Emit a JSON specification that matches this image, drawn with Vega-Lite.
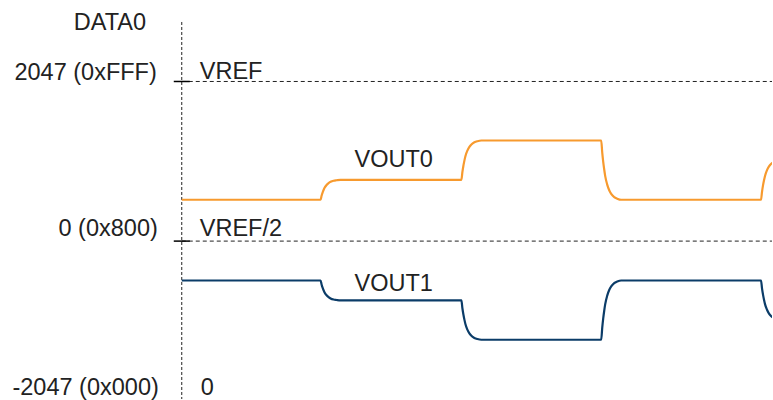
{
  "$schema": "https://vega.github.io/schema/vega-lite/v6.json",
  "width": 773,
  "height": 400,
  "padding": 0,
  "autosize": {"type": "fit", "contains": "padding"},
  "config": {"view": {"stroke": null}},
  "datasets": {
    "waves": [
      {"series": "VOUT0", "t": 0, "v": 530},
      {"series": "VOUT0", "t": 139, "v": 530},
      {"series": "VOUT0", "t": 140, "v": 581},
      {"series": "VOUT0", "t": 141, "v": 622},
      {"series": "VOUT0", "t": 142, "v": 655},
      {"series": "VOUT0", "t": 143, "v": 683},
      {"series": "VOUT0", "t": 145, "v": 720},
      {"series": "VOUT0", "t": 147, "v": 744},
      {"series": "VOUT0", "t": 149, "v": 760},
      {"series": "VOUT0", "t": 152, "v": 774},
      {"series": "VOUT0", "t": 155, "v": 780},
      {"series": "VOUT0", "t": 159, "v": 785},
      {"series": "VOUT0", "t": 280, "v": 785},
      {"series": "VOUT0", "t": 281, "v": 886},
      {"series": "VOUT0", "t": 282, "v": 967},
      {"series": "VOUT0", "t": 283, "v": 1032},
      {"series": "VOUT0", "t": 284, "v": 1088},
      {"series": "VOUT0", "t": 286, "v": 1161},
      {"series": "VOUT0", "t": 288, "v": 1209},
      {"series": "VOUT0", "t": 290, "v": 1240},
      {"series": "VOUT0", "t": 293, "v": 1267},
      {"series": "VOUT0", "t": 296, "v": 1281},
      {"series": "VOUT0", "t": 300, "v": 1290},
      {"series": "VOUT0", "t": 420, "v": 1290},
      {"series": "VOUT0", "t": 421, "v": 1138},
      {"series": "VOUT0", "t": 422, "v": 1016},
      {"series": "VOUT0", "t": 423, "v": 918},
      {"series": "VOUT0", "t": 424, "v": 834},
      {"series": "VOUT0", "t": 426, "v": 724},
      {"series": "VOUT0", "t": 428, "v": 652},
      {"series": "VOUT0", "t": 430, "v": 606},
      {"series": "VOUT0", "t": 433, "v": 564},
      {"series": "VOUT0", "t": 436, "v": 544},
      {"series": "VOUT0", "t": 440, "v": 530},
      {"series": "VOUT0", "t": 580, "v": 530},
      {"series": "VOUT0", "t": 581, "v": 632},
      {"series": "VOUT0", "t": 582, "v": 714},
      {"series": "VOUT0", "t": 583, "v": 780},
      {"series": "VOUT0", "t": 584, "v": 836},
      {"series": "VOUT0", "t": 586, "v": 910},
      {"series": "VOUT0", "t": 588, "v": 958},
      {"series": "VOUT0", "t": 590, "v": 989},
      {"series": "VOUT0", "t": 593, "v": 1017},
      {"series": "VOUT0", "t": 596, "v": 1031},
      {"series": "VOUT0", "t": 600, "v": 1040},
      {"series": "VOUT1", "t": 0, "v": -505},
      {"series": "VOUT1", "t": 139, "v": -505},
      {"series": "VOUT1", "t": 140, "v": -556},
      {"series": "VOUT1", "t": 141, "v": -597},
      {"series": "VOUT1", "t": 142, "v": -630},
      {"series": "VOUT1", "t": 143, "v": -658},
      {"series": "VOUT1", "t": 145, "v": -695},
      {"series": "VOUT1", "t": 147, "v": -719},
      {"series": "VOUT1", "t": 149, "v": -735},
      {"series": "VOUT1", "t": 152, "v": -749},
      {"series": "VOUT1", "t": 155, "v": -755},
      {"series": "VOUT1", "t": 159, "v": -760},
      {"series": "VOUT1", "t": 280, "v": -760},
      {"series": "VOUT1", "t": 281, "v": -861},
      {"series": "VOUT1", "t": 282, "v": -942},
      {"series": "VOUT1", "t": 283, "v": -1007},
      {"series": "VOUT1", "t": 284, "v": -1063},
      {"series": "VOUT1", "t": 286, "v": -1136},
      {"series": "VOUT1", "t": 288, "v": -1184},
      {"series": "VOUT1", "t": 290, "v": -1215},
      {"series": "VOUT1", "t": 293, "v": -1242},
      {"series": "VOUT1", "t": 296, "v": -1256},
      {"series": "VOUT1", "t": 300, "v": -1265},
      {"series": "VOUT1", "t": 420, "v": -1265},
      {"series": "VOUT1", "t": 421, "v": -1113},
      {"series": "VOUT1", "t": 422, "v": -991},
      {"series": "VOUT1", "t": 423, "v": -893},
      {"series": "VOUT1", "t": 424, "v": -809},
      {"series": "VOUT1", "t": 426, "v": -699},
      {"series": "VOUT1", "t": 428, "v": -627},
      {"series": "VOUT1", "t": 430, "v": -581},
      {"series": "VOUT1", "t": 433, "v": -539},
      {"series": "VOUT1", "t": 436, "v": -519},
      {"series": "VOUT1", "t": 440, "v": -505},
      {"series": "VOUT1", "t": 580, "v": -505},
      {"series": "VOUT1", "t": 581, "v": -606},
      {"series": "VOUT1", "t": 582, "v": -687},
      {"series": "VOUT1", "t": 583, "v": -752},
      {"series": "VOUT1", "t": 584, "v": -808},
      {"series": "VOUT1", "t": 586, "v": -881},
      {"series": "VOUT1", "t": 588, "v": -929},
      {"series": "VOUT1", "t": 590, "v": -960},
      {"series": "VOUT1", "t": 593, "v": -987},
      {"series": "VOUT1", "t": 596, "v": -1001},
      {"series": "VOUT1", "t": 600, "v": -1010}
    ],
    "labels": [
      {"text": "DATA0", "t": -72, "v": 2705, "align": "center"},
      {"text": "2047 (0xFFF)", "t": -25, "v": 2070, "align": "right"},
      {"text": "0 (0x800)", "t": -24, "v": 60, "align": "right"},
      {"text": "-2047 (0x000)", "t": -23, "v": -1980, "align": "right"},
      {"text": "VREF", "t": 18, "v": 2080, "align": "left"},
      {"text": "VREF/2", "t": 18, "v": 63, "align": "left"},
      {"text": "0", "t": 19, "v": -1980, "align": "left"},
      {"text": "VOUT0", "t": 173, "v": 945, "align": "left"},
      {"text": "VOUT1", "t": 173, "v": -640, "align": "left"}
    ],
    "refs": [
      {"t1": 0, "t2": 591, "v": 2047},
      {"t1": 0, "t2": 591, "v": 0}
    ],
    "ticks": [
      {"t1": -8, "t2": 8, "v": 2047},
      {"t1": -8, "t2": 8, "v": 0}
    ],
    "axisline": [
      {"t": 0, "v1": 2810, "v2": -2025}
    ]
  },
  "layer": [
    {
      "data": {"name": "axisline"},
      "mark": {"type": "rule", "color": "#222222", "strokeWidth": 1, "strokeDash": [3, 2]},
      "encoding": {
        "x": {"field": "t", "type": "quantitative", "scale": {"domain": [-182, 591], "nice": false, "zero": false}, "axis": null},
        "y": {"field": "v1", "type": "quantitative", "scale": {"domain": [-2025, 3092], "nice": false, "zero": false}, "axis": null},
        "y2": {"field": "v2"}
      }
    },
    {
      "data": {"name": "refs"},
      "mark": {"type": "rule", "color": "#222222", "strokeWidth": 1, "strokeDash": [4, 3]},
      "encoding": {
        "x": {"field": "t1", "type": "quantitative"},
        "x2": {"field": "t2"},
        "y": {"field": "v", "type": "quantitative"}
      }
    },
    {
      "data": {"name": "ticks"},
      "mark": {"type": "rule", "color": "#000000", "strokeWidth": 1.5},
      "encoding": {
        "x": {"field": "t1", "type": "quantitative"},
        "x2": {"field": "t2"},
        "y": {"field": "v", "type": "quantitative"}
      }
    },
    {
      "data": {"name": "waves"},
      "mark": {"type": "line", "interpolate": "monotone", "strokeWidth": 2.2, "clip": true},
      "encoding": {
        "x": {"field": "t", "type": "quantitative"},
        "y": {"field": "v", "type": "quantitative"},
        "color": {"field": "series", "type": "nominal", "scale": {"domain": ["VOUT0", "VOUT1"], "range": ["#F79A2E", "#0B3C68"]}, "legend": null}
      }
    },
    {
      "data": {"name": "labels"},
      "transform": [{"filter": "datum.align === 'left'"}],
      "mark": {"type": "text", "align": "left", "baseline": "alphabetic", "font": "Liberation Sans", "fontSize": 23.5, "color": "#222222"},
      "encoding": {
        "x": {"field": "t", "type": "quantitative"},
        "y": {"field": "v", "type": "quantitative"},
        "text": {"field": "text"}
      }
    },
    {
      "data": {"name": "labels"},
      "transform": [{"filter": "datum.align === 'right'"}],
      "mark": {"type": "text", "align": "right", "baseline": "alphabetic", "font": "Liberation Sans", "fontSize": 23.5, "color": "#222222"},
      "encoding": {
        "x": {"field": "t", "type": "quantitative"},
        "y": {"field": "v", "type": "quantitative"},
        "text": {"field": "text"}
      }
    },
    {
      "data": {"name": "labels"},
      "transform": [{"filter": "datum.align === 'center'"}],
      "mark": {"type": "text", "align": "center", "baseline": "alphabetic", "font": "Liberation Sans", "fontSize": 23.5, "color": "#222222"},
      "encoding": {
        "x": {"field": "t", "type": "quantitative"},
        "y": {"field": "v", "type": "quantitative"},
        "text": {"field": "text"}
      }
    }
  ]
}
